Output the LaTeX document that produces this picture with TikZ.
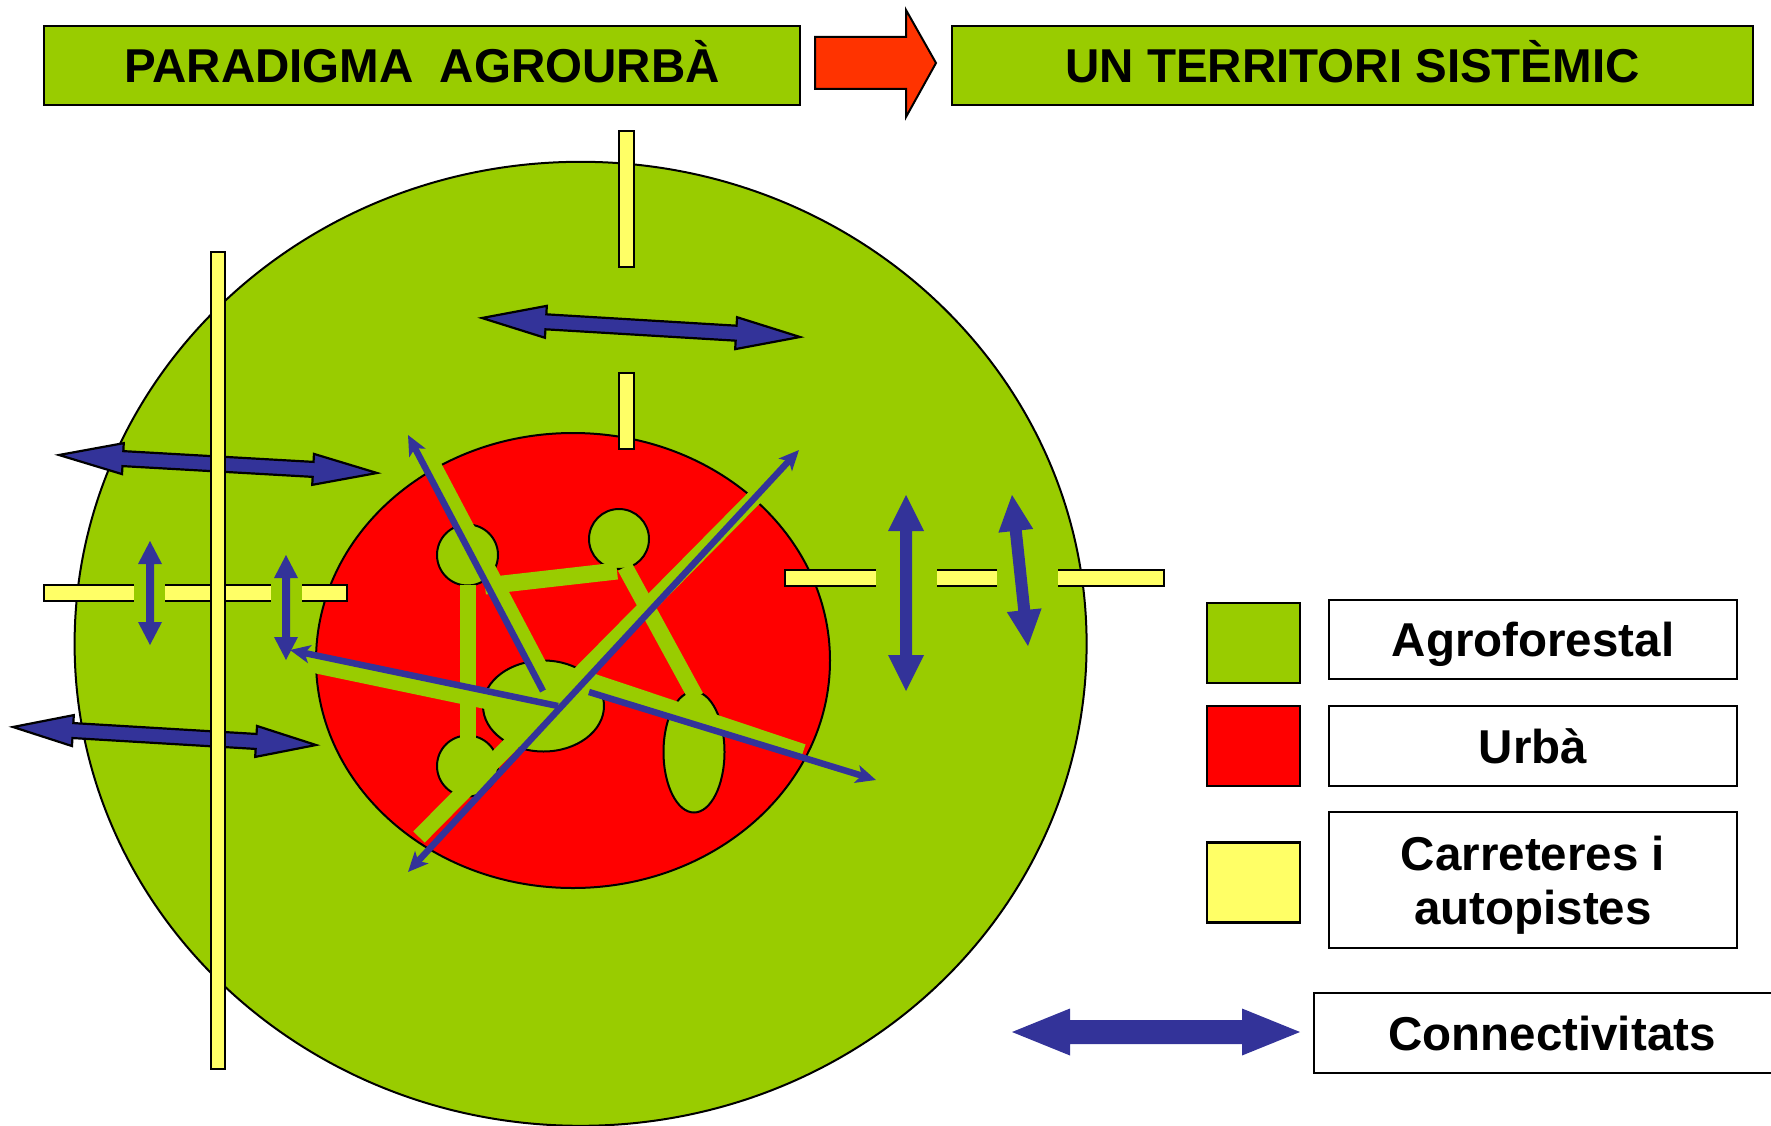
\documentclass[tikz,border=0pt]{standalone}
\usepackage{fontspec}
\setmainfont{Liberation Sans}
\usetikzlibrary{arrows.meta}
\definecolor{agr}{HTML}{99CC00}
\definecolor{urb}{HTML}{FF0000}
\definecolor{carr}{HTML}{FFFF66}
\definecolor{conn}{HTML}{333399}
\definecolor{orng}{HTML}{FF3300}
\newcommand\blockarrow[8]{%
  \pgfmathsetmacro\baXa{#1}\pgfmathsetmacro\baYa{#2}%
  \pgfmathsetmacro\baXb{#3}\pgfmathsetmacro\baYb{#4}%
  \pgfmathsetmacro\baL{veclen(\baXb-\baXa,\baYb-\baYa)}%
  \pgfmathsetmacro\baUx{(\baXb-\baXa)/\baL}%
  \pgfmathsetmacro\baUy{(\baYb-\baYa)/\baL}%
  \pgfmathsetmacro\baNx{-1*(\baUy)}\pgfmathsetmacro\baNy{\baUx}%
  \path[#8] (\baXa,\baYa)
   -- ({\baXa+#7*(\baUx)+#6*(\baNx)},{\baYa+#7*(\baUy)+#6*(\baNy)})
   -- ({\baXa+#7*(\baUx)+#5*(\baNx)},{\baYa+#7*(\baUy)+#5*(\baNy)})
   -- ({\baXb-#7*(\baUx)+#5*(\baNx)},{\baYb-#7*(\baUy)+#5*(\baNy)})
   -- ({\baXb-#7*(\baUx)+#6*(\baNx)},{\baYb-#7*(\baUy)+#6*(\baNy)})
   -- (\baXb,\baYb)
   -- ({\baXb-#7*(\baUx)-#6*(\baNx)},{\baYb-#7*(\baUy)-#6*(\baNy)})
   -- ({\baXb-#7*(\baUx)-#5*(\baNx)},{\baYb-#7*(\baUy)-#5*(\baNy)})
   -- ({\baXa+#7*(\baUx)-#5*(\baNx)},{\baYa+#7*(\baUy)-#5*(\baNy)})
   -- ({\baXa+#7*(\baUx)-#6*(\baNx)},{\baYa+#7*(\baUy)-#6*(\baNy)})
   -- cycle;}
\tikzset{
  bigfont/.style={font=\fontsize{47.5}{54}\selectfont\bfseries},
  hdr/.style={draw=black, line width=2.5pt, fill=agr, inner sep=0pt, bigfont, text height=34pt, text depth=0pt},
  lbox/.style={draw=black, line width=2.5pt, fill=white, inner sep=0pt, bigfont, text height=34pt, text depth=0pt},
  lsq/.style={draw=black, line width=2.5pt, inner sep=0pt, minimum width=93pt, minimum height=80pt},
  road/.style={fill=carr, draw=black, line width=1.6pt},
  gapcover/.style={fill=agr},
  outlinedarrow/.style={fill=conn, draw=black, line width=2.2pt, line join=miter},
  plainarrow/.style={fill=conn},
  gbar/.style={draw=agr, line width=16pt},
  thinarr/.style={draw=conn, line width=6.5pt},
  patch/.style={fill=agr, draw=black, line width=2pt}
}
\begin{document}
\begin{tikzpicture}[x=1pt,y=-1pt]
\useasboundingbox (0,0) rectangle (1771,1126);
\clip (0,0) rectangle (1771,1126);
% headers
\node[hdr, minimum width=756pt, minimum height=79pt] (hA) at (422,65.5) {PARADIGMA\ \ AGROURBÀ};
\node[hdr, minimum width=801pt, minimum height=79pt] (hB) at (1352.5,65.5) {UN TERRITORI SISTÈMIC};
\filldraw[fill=orng, draw=black, line width=2pt, line join=miter]
  (815,37) -- (906,37) -- (906,10) -- (936,63) -- (906,117) -- (906,89) -- (815,89) -- cycle;
% territory
\filldraw[fill=agr, draw=black, line width=2pt] (580.6,643.8) ellipse [x radius=506pt, y radius=482pt];
\filldraw[fill=urb, draw=black, line width=2pt] (573,660.5) ellipse [x radius=257pt, y radius=227.5pt];
% horizontal roads
\filldraw[road] (44,585) rectangle (347,601);
\fill[gapcover] (134,583) rectangle (165,603);
\fill[gapcover] (271,583) rectangle (302,603);
\filldraw[road] (785,570) rectangle (1164,586);
\fill[gapcover] (876,568) rectangle (937,588);
\fill[gapcover] (997,568) rectangle (1058,588);
% big connectivity arrows
\blockarrow{482}{318}{800}{337}{7.5}{16}{64}{outlinedarrow}
\blockarrow{59}{455}{377}{473}{7.5}{15.5}{64}{outlinedarrow}
\blockarrow{13}{727}{316}{745}{7.5}{15.5}{60}{outlinedarrow}
% vertical roads
\filldraw[road] (211,252) rectangle (225,1069);
\filldraw[road] (619,131) rectangle (634,267);
\filldraw[road] (619,373) rectangle (634,449);
% small arrows across roads
\blockarrow{150}{541}{150}{645}{4}{12}{23}{plainarrow}
\blockarrow{286}{555}{286}{660}{4}{12}{23}{plainarrow}
\blockarrow{906}{495}{906}{691}{6}{18}{36}{plainarrow}
\blockarrow{1012}{495}{1028}{646}{6}{17.5}{36}{plainarrow}
% green patches in the city
\filldraw[patch] (467.5,555) circle [radius=30.5pt];
\filldraw[patch] (619,539) circle [radius=30pt];
\filldraw[patch] (467.5,766) circle [radius=30.5pt];
\filldraw[patch] (543.5,706) ellipse [x radius=60.5pt, y radius=45.5pt];
\filldraw[patch] (694,752) ellipse [x radius=30.5pt, y radius=60.5pt];
% green corridors
\coordinate (cA) at (468,585);
\coordinate (cC) at (468,738);
\draw[gbar] (cA) -- (cC);
\coordinate (abL) at (485,586);
\coordinate (abR) at (617,571);
\draw[gbar, line width=17pt] (abL) -- (abR);
\coordinate (beT) at (625,567);
\coordinate (beB) at (696,697);
\draw[gbar] (beT) -- (beB);
\coordinate (nwG1) at (423.5,449);
\coordinate (nwG2) at (540,670);
\draw[gbar, line width=18pt] (nwG1) -- (nwG2);
\coordinate (neG1) at (419,837);
\coordinate (neG2) at (755,497);
\draw[gbar] (neG1) -- (neG2);
\coordinate (wG1) at (300,662);
\coordinate (wG2) at (548,714);
\draw[gbar] (wG1) -- (wG2);
\coordinate (eG1) at (588,680);
\coordinate (eG2) at (803,752);
\draw[gbar] (eG1) -- (eG2);
% thin connectivity arrows
\coordinate (nwT) at (543,691);
\coordinate (nwH) at (408,435);
\coordinate (neA) at (408,872);
\coordinate (neB) at (799,450);
\coordinate (wT) at (558,706);
\coordinate (wH) at (290,650);
\coordinate (eT) at (589,692);
\coordinate (eH) at (876,780);
\draw[thinarr, -{Stealth[length=20pt,width=18pt,inset=5pt]}] (nwT) -- (nwH);
\draw[thinarr, {Stealth[length=20pt,width=18pt,inset=5pt]}-{Stealth[length=20pt,width=18pt,inset=5pt]}] (neA) -- (neB);
\draw[thinarr, -{Stealth[length=20pt,width=18pt,inset=5pt]}] (wT) -- (wH);
\draw[thinarr, -{Stealth[length=20pt,width=18pt,inset=5pt]}] (eT) -- (eH);
% legend
\node[lsq, fill=agr] (sqA) at (1253.5,643) {};
\node[lsq, fill=urb] (sqU) at (1253.5,746) {};
\node[lsq, fill=carr] (sqC) at (1253.5,882.5) {};
\node[lbox, minimum width=408pt, minimum height=79pt] (lA) at (1533,639.5) {Agroforestal};
\node[lbox, minimum width=408pt, minimum height=80pt] (lU) at (1533,746) {Urbà};
\node[draw=black, line width=2.5pt, fill=white, inner sep=0pt, bigfont, align=center, text depth=0pt,
      minimum width=408pt, minimum height=136pt] (lC) at (1533,880) {Carreteres i\\autopistes};
\blockarrow{1012}{1032}{1300}{1032}{12}{23.5}{58}{plainarrow}
\node[lbox, minimum width=476pt, minimum height=80pt] (lK) at (1552,1033) {Connectivitats};
\end{tikzpicture}
\end{document}
